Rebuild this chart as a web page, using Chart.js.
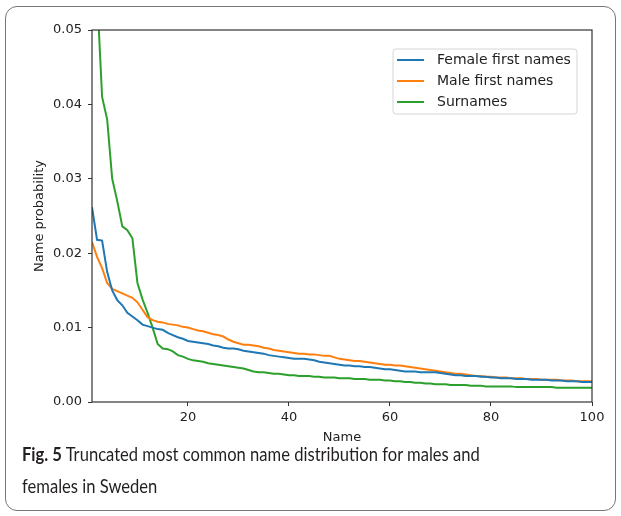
<!DOCTYPE html>
<html>
<head>
<meta charset="utf-8">
<script src="https://cdn.jsdelivr.net/npm/chart.js@4.4.0/dist/chart.umd.min.js"></script>
<style>
  html, body { margin: 0; padding: 0; background: #fff; }
  #frame {
    position: absolute; left: 5px; top: 6px; width: 611px; height: 505px;
    border: 1.5px solid #777; border-radius: 12px; box-sizing: border-box;
  }
  #wrap { position: absolute; left: 0; top: 0; width: 621px; height: 452px; }
  #caption {
    position: absolute; left: 22px; top: 438px; width: 690px;
    font-family: Lato, "Noto Sans", sans-serif; font-size: 19.5px; line-height: 32px;
    color: #231f20; transform: scaleX(0.85); transform-origin: 0 0;
  }
  #caption b { font-weight: 700; }
</style>
</head>
<body>
<div id="frame"></div>
<div id="wrap"><canvas id="chart" width="621" height="452"></canvas></div>
<div id="caption"><b>Fig. 5</b> Truncated most common name distribution for males and<br>females in Sweden</div>
<script>
// rank of the name (1 = most common)
const ranks = Array.from({ length: 100 }, (_, i) => i + 1);

const femaleFirst = [
  0.0262, 0.0218, 0.0217, 0.0175, 0.0150, 0.0137, 0.0130, 0.0120, 0.0115, 0.0110,
  0.0104, 0.0102, 0.0100, 0.0098, 0.0097, 0.0093, 0.0090, 0.0087, 0.0085, 0.0082,
  0.0081, 0.0080, 0.0079, 0.0078, 0.0076, 0.0075, 0.0073, 0.0072, 0.0072, 0.0071,
  0.0069, 0.0068, 0.0067, 0.0066, 0.0065, 0.0063, 0.0062, 0.0061, 0.0060, 0.0059,
  0.0058, 0.0058, 0.0058, 0.0057, 0.0056, 0.0054, 0.0053, 0.0052, 0.0051, 0.0050,
  0.0049, 0.0049, 0.0048, 0.0048, 0.0047, 0.0047, 0.0046, 0.0045, 0.0044, 0.0044,
  0.0043, 0.0042, 0.0041, 0.0041, 0.0041, 0.0040, 0.0040, 0.0040, 0.0040, 0.0039,
  0.0038, 0.0037, 0.0036, 0.0036, 0.0035, 0.0035, 0.0035, 0.0034, 0.0034, 0.0033,
  0.0033, 0.0032, 0.0032, 0.0032, 0.0031, 0.0031, 0.0031, 0.0030, 0.0030, 0.0030,
  0.0030, 0.0029, 0.0029, 0.0029, 0.0028, 0.0028, 0.0028, 0.0027, 0.0027, 0.0027
];

const maleFirst = [
  0.0215, 0.0195, 0.0180, 0.0160, 0.0152, 0.0149, 0.0146, 0.0143, 0.0140, 0.0134,
  0.0124, 0.0114, 0.0110, 0.0108, 0.0107, 0.0105, 0.0104, 0.0103, 0.0101, 0.0100,
  0.0098, 0.0096, 0.0095, 0.0093, 0.0091, 0.0090, 0.0088, 0.0084, 0.0081, 0.0079,
  0.0077, 0.0077, 0.0076, 0.0075, 0.0073, 0.0072, 0.0070, 0.0069, 0.0068, 0.0067,
  0.0066, 0.0065, 0.0065, 0.0064, 0.0064, 0.0063, 0.0062, 0.0062, 0.0060, 0.0058,
  0.0057, 0.0056, 0.0055, 0.0055, 0.0054, 0.0053, 0.0052, 0.0051, 0.0050, 0.0050,
  0.0049, 0.0049, 0.0048, 0.0047, 0.0046, 0.0045, 0.0044, 0.0043, 0.0042, 0.0041,
  0.0040, 0.0039, 0.0038, 0.0038, 0.0037, 0.0036, 0.0035, 0.0035, 0.0034, 0.0034,
  0.0033, 0.0033, 0.0033, 0.0032, 0.0032, 0.0032, 0.0031, 0.0031, 0.0031, 0.0030,
  0.0030, 0.0030, 0.0030, 0.0029, 0.0029, 0.0029, 0.0028, 0.0028, 0.0028, 0.0028
];

const surnames = [
  0.0700, 0.0550, 0.0410, 0.0380, 0.0300, 0.0270, 0.0236, 0.0231, 0.0220, 0.0160,
  0.0138, 0.0120, 0.0100, 0.0078, 0.0072, 0.0071, 0.0068, 0.0063, 0.0061, 0.0058,
  0.0056, 0.0055, 0.0054, 0.0052, 0.0051, 0.0050, 0.0049, 0.0048, 0.0047, 0.0046,
  0.0045, 0.0043, 0.0041, 0.0040, 0.0040, 0.0039, 0.0038, 0.0038, 0.0037, 0.0036,
  0.0036, 0.0035, 0.0035, 0.0035, 0.0034, 0.0034, 0.0033, 0.0033, 0.0033, 0.0032,
  0.0032, 0.0032, 0.0031, 0.0031, 0.0031, 0.0030, 0.0030, 0.0030, 0.0029, 0.0029,
  0.0028, 0.0028, 0.0027, 0.0027, 0.0026, 0.0026, 0.0025, 0.0025, 0.0024, 0.0024,
  0.0024, 0.0023, 0.0023, 0.0023, 0.0023, 0.0022, 0.0022, 0.0022, 0.0021, 0.0021,
  0.0021, 0.0021, 0.0021, 0.0021, 0.0020, 0.0020, 0.0020, 0.0020, 0.0020, 0.0020,
  0.0020, 0.0020, 0.0019, 0.0019, 0.0019, 0.0019, 0.0019, 0.0019, 0.0019, 0.0019
];

const seriesNames = ["Female first names", "Male first names", "Surnames"];
const seriesColors = ["#1f77b4", "#ff7f0e", "#2ca02c"];
const xTicks = [20, 40, 60, 80, 100];
const yTicks = [0, 0.01, 0.02, 0.03, 0.04, 0.05];

const toPoints = (vals) => vals.map((v, i) => ({ x: ranks[i], y: v }));

// axes box (all four spines) + matplotlib-like legend in the upper right
const frameAndLegend = {
  id: "frameAndLegend",
  afterDatasetsDraw(chart) {
    const { ctx, chartArea: a } = chart;
    ctx.save();
    ctx.strokeStyle = "#333";
    ctx.lineWidth = 1.2;
    ctx.strokeRect(a.left, a.top, a.right - a.left, a.bottom - a.top);

    const w = 184, h = 65;
    const bx = a.right - 15 - w, by = a.top + 19;
    ctx.beginPath();
    ctx.roundRect(bx, by, w, h, 3);
    ctx.fillStyle = "rgba(255,255,255,0.8)";
    ctx.fill();
    ctx.strokeStyle = "#d6d6d6";
    ctx.lineWidth = 1;
    ctx.stroke();

    ctx.font = "14px 'DejaVu Sans'";
    ctx.textBaseline = "middle";
    chart.data.datasets.forEach((ds, i) => {
      const y = by + 11 + i * 21;
      ctx.strokeStyle = ds.borderColor;
      ctx.lineWidth = 2;
      ctx.beginPath();
      ctx.moveTo(bx + 4, y);
      ctx.lineTo(bx + 31, y);
      ctx.stroke();
      ctx.fillStyle = "#222";
      ctx.fillText(ds.label, bx + 44, y);
    });
    ctx.restore();
  }
};

new Chart(document.getElementById("chart"), {
  type: "line",
  data: {
    datasets: [femaleFirst, maleFirst, surnames].map((vals, i) => ({
      label: seriesNames[i],
      data: toPoints(vals),
      borderColor: seriesColors[i],
      borderWidth: 2,
      pointRadius: 0,
      tension: 0,
      fill: false
    }))
  },
  options: {
    responsive: false,
    animation: false,
    layout: { padding: { top: 30, right: 29, left: 0, bottom: 0 } },
    plugins: { legend: { display: false }, tooltip: { enabled: false } },
    scales: {
      x: {
        type: "linear",
        min: 1,
        max: 100,
        afterFit: (s) => { s.height = 50; },
        afterBuildTicks: (s) => { s.ticks = xTicks.map((v) => ({ value: v })); },
        border: { display: false },
        grid: { drawOnChartArea: false, tickLength: 4, color: "#333" },
        ticks: { color: "#222", padding: 4, maxRotation: 0, font: { family: "DejaVu Sans", size: 13 } },
        title: {
          display: true, text: "Name", color: "#222",
          font: { family: "DejaVu Sans", size: 13 }, padding: { top: 0, bottom: 7 }
        }
      },
      y: {
        min: 0,
        max: 0.05,
        afterFit: (s) => { s.width = 92; },
        afterBuildTicks: (s) => { s.ticks = yTicks.map((v) => ({ value: v })); },
        border: { display: false },
        grid: { drawOnChartArea: false, tickLength: 4, color: "#333" },
        ticks: {
          color: "#222", padding: 6, font: { family: "DejaVu Sans", size: 13 },
          callback: (v) => v.toFixed(2)
        },
        title: {
          display: true, text: "Name probability", color: "#222",
          font: { family: "DejaVu Sans", size: 13 }, padding: { top: 32, bottom: 0 }
        }
      }
    }
  },
  plugins: [frameAndLegend]
});
</script>
</body>
</html>
